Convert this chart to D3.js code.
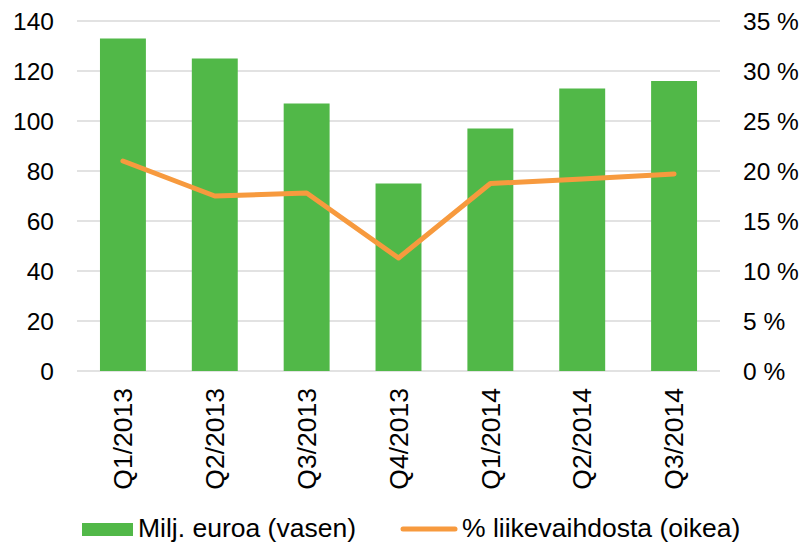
<!DOCTYPE html>
<html>
<head>
<meta charset="utf-8">
<script src="https://cdn.jsdelivr.net/npm/d3@7"></script>
<style>
  body { margin: 0; background: #fff; }
  svg text { font-family: "Liberation Sans", Arial, sans-serif; fill: #000; }
</style>
</head>
<body>
<script>
var quarters = ["Q1/2013", "Q2/2013", "Q3/2013", "Q4/2013", "Q1/2014", "Q2/2014", "Q3/2014"]
var euros = [133, 125, 107, 75, 97, 113, 116]          // Milj. euroa (vasen)
var shares = [21.0, 17.5, 17.8, 11.3, 18.75, 19.2, 19.7] // % liikevaihdosta (oikea)
var leftTicks = [0, 20, 40, 60, 80, 100, 120, 140]
var rightTicks = [0, 5, 10, 15, 20, 25, 30, 35]

var width = 807, height = 545
var plot = {left: 77, right: 720, top: 21, bottom: 371}

var svg = d3.select("body")
            .append("svg")
            .attr("width", width)
            .attr("height", height)

var x = d3.scaleBand()
          .domain(quarters)
          .range([plot.left, plot.right])
          .paddingInner(0.5)
          .paddingOuter(0.25)

var yLeft = d3.scaleLinear()
              .domain([0, 140])
              .range([plot.bottom, plot.top])

var yRight = d3.scaleLinear()
               .domain([0, 35])
               .range([plot.bottom, plot.top])

// gridlines
svg.selectAll(".grid")
   .data(leftTicks)
   .enter()
   .append("line")
   .attr("class", "grid")
   .attr("x1", plot.left)
   .attr("x2", plot.right)
   .attr("y1", d => yLeft(d))
   .attr("y2", d => yLeft(d))
   .attr("stroke", "#d9d9d9")
   .attr("stroke-width", 1.5)

// left axis
var leftAxis = svg.append("g")
                  .attr("transform", "translate(" + (plot.left - 23) + ",0)")
                  .call(d3.axisLeft(yLeft).tickValues(leftTicks).tickSize(0).tickPadding(0))
leftAxis.select(".domain").remove()
leftAxis.selectAll("text")
        .attr("font-size", 24.5)
        .attr("dy", "0.35em")

// right axis
var rightAxis = svg.append("g")
                   .attr("transform", "translate(" + (plot.right + 23) + ",0)")
                   .call(d3.axisRight(yRight).tickValues(rightTicks).tickSize(0).tickPadding(0)
                           .tickFormat(d => d + " %"))
rightAxis.select(".domain").remove()
rightAxis.selectAll("text")
         .attr("font-size", 24.5)
         .attr("dy", "0.35em")

// bars
svg.selectAll(".bar")
   .data(euros)
   .enter()
   .append("rect")
   .attr("class", "bar")
   .attr("x", (d, i) => x(quarters[i]))
   .attr("width", x.bandwidth())
   .attr("y", d => yLeft(d))
   .attr("height", d => yLeft(0) - yLeft(d))
   .attr("fill", "#51b848")

// category labels
var bottomAxis = svg.append("g")
                    .attr("transform", "translate(0," + (plot.bottom + 17) + ")")
                    .call(d3.axisBottom(x).tickSize(0).tickPadding(0))
bottomAxis.select(".domain").remove()
bottomAxis.selectAll("text")
          .attr("font-size", 26.5)
          .attr("text-anchor", "end")
          .attr("transform", "rotate(-90)")
          .attr("x", 0)
          .attr("y", 0)
          .attr("dy", "0.35em")

// line
var line = d3.line()
             .x((d, i) => x(quarters[i]) + x.bandwidth() / 2)
             .y(d => yRight(d))

svg.append("path")
   .datum(shares)
   .attr("d", line)
   .attr("fill", "none")
   .attr("stroke", "#f79a3e")
   .attr("stroke-width", 5)
   .attr("stroke-linecap", "round")
   .attr("stroke-linejoin", "round")

// legend
var legend = svg.append("g")
legend.append("rect")
      .attr("x", 82).attr("y", 523)
      .attr("width", 51).attr("height", 13)
      .attr("fill", "#51b848")
legend.append("text")
      .attr("x", 138).attr("y", 537)
      .attr("font-size", 26.5)
      .text("Milj. euroa (vasen)")
legend.append("line")
      .attr("x1", 403).attr("x2", 455)
      .attr("y1", 529).attr("y2", 529)
      .attr("stroke", "#f79a3e")
      .attr("stroke-width", 5)
      .attr("stroke-linecap", "round")
legend.append("text")
      .attr("x", 462).attr("y", 537)
      .attr("font-size", 26.5)
      .text("% liikevaihdosta (oikea)")
</script>
</body>
</html>
